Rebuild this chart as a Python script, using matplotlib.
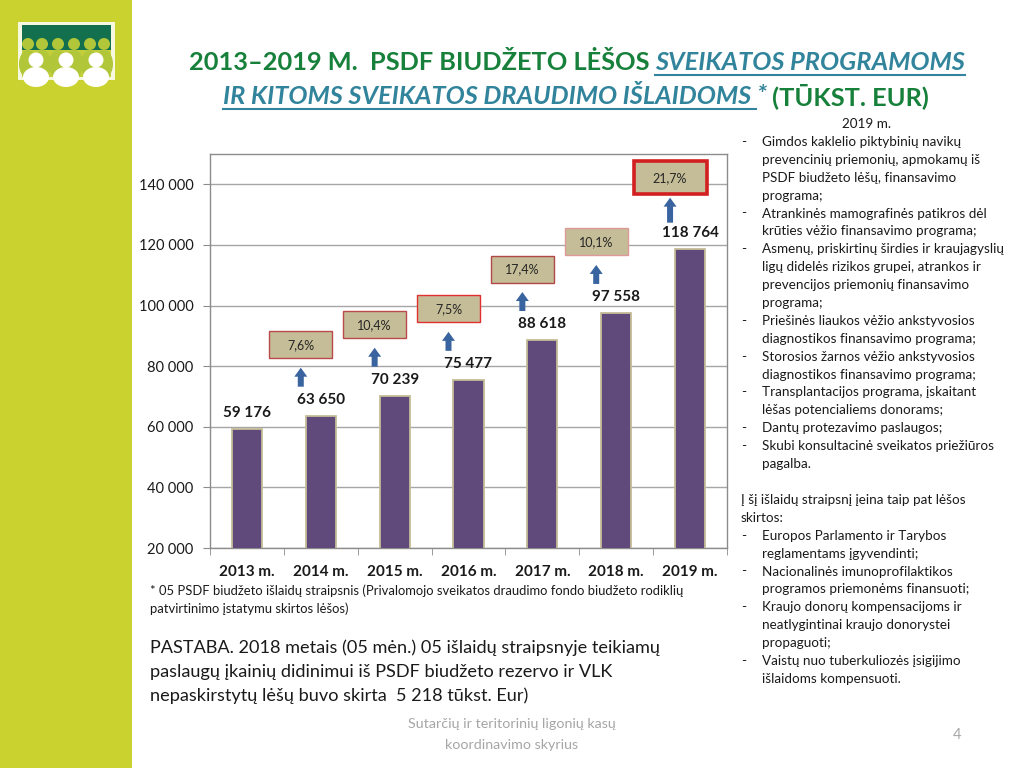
import matplotlib
matplotlib.use("Agg")
import matplotlib.pyplot as plt
import numpy as np
from matplotlib.patches import Rectangle, FancyArrow, Ellipse
from matplotlib.transforms import Affine2D, ScaledTranslation
from matplotlib.ticker import FuncFormatter, FixedLocator

plt.rcParams['font.family'] = ['Lato', 'DejaVu Sans']

# ---- data ----
years = ['2013 m.', '2014 m.', '2015 m.', '2016 m.', '2017 m.', '2018 m.', '2019 m.']
values = [59176, 63650, 70239, 75477, 88618, 97558, 118764]
growth = [None, '7,6%', '10,4%', '7,5%', '17,4%', '10,1%', '21,7%']
y_ticks = [20000, 40000, 60000, 80000, 100000, 120000, 140000]

right_lines = [
    (0, '2019 m.'),
    (1, 'Gimdos kaklelio piktybinių navikų'),
    (2, 'prevencinių priemonių, apmokamų iš'),
    (2, 'PSDF biudžeto lėšų, finansavimo'),
    (2, 'programa;'),
    (1, 'Atrankinės mamografinės patikros dėl'),
    (2, 'krūties vėžio finansavimo programa;'),
    (1, 'Asmenų, priskirtinų širdies ir kraujagyslių'),
    (2, 'ligų didelės rizikos grupei, atrankos ir'),
    (2, 'prevencijos priemonių finansavimo'),
    (2, 'programa;'),
    (1, 'Priešinės liaukos vėžio ankstyvosios'),
    (2, 'diagnostikos finansavimo programa;'),
    (1, 'Storosios žarnos vėžio ankstyvosios'),
    (2, 'diagnostikos finansavimo programa;'),
    (1, 'Transplantacijos programa, įskaitant'),
    (2, 'lėšas potencialiems donorams;'),
    (1, 'Dantų protezavimo paslaugos;'),
    (1, 'Skubi konsultacinė sveikatos priežiūros'),
    (2, 'pagalba.'),
    (3, ''),
    (3, 'Į šį išlaidų straipsnį įeina taip pat lėšos'),
    (3, 'skirtos:'),
    (1, 'Europos Parlamento ir Tarybos'),
    (2, 'reglamentams įgyvendinti;'),
    (1, 'Nacionalinės imunoprofilaktikos'),
    (2, 'programos priemonėms finansuoti;'),
    (1, 'Kraujo donorų kompensacijoms ir'),
    (2, 'neatlygintinai kraujo donorystei'),
    (2, 'propaguoti;'),
    (1, 'Vaistų nuo tuberkuliozės įsigijimo'),
    (2, 'išlaidoms kompensuoti.'),
]

footnote = ['* 05 PSDF biudžeto išlaidų straipsnis (Privalomojo sveikatos draudimo fondo biudžeto rodiklių',
            'patvirtinimo įstatymu skirtos lėšos)']
note = ['PASTABA. 2018 metais (05 mėn.) 05 išlaidų straipsnyje teikiamų',
        'paslaugų įkainių didinimui iš PSDF biudžeto rezervo ir VLK',
        'nepaskirstytų lėšų buvo skirta  5 218 tūkst. Eur)']
footer = ['Sutarčių ir teritorinių ligonių kasų', 'koordinavimo skyrius']

W, H = 1024, 768
fig = plt.figure(figsize=(W / 100, H / 100), dpi=100)
fig.patch.set_facecolor('white')


def fx(px):
    return px / W


def fy(py):
    return 1 - py / H


def fh(ph):
    return ph / H


# ---- left sidebar and logo ----
fig.add_artist(Rectangle((0, 0), fx(132), 1, transform=fig.transFigure,
                         facecolor='#c9d22e', edgecolor='none', zorder=0))
fig.add_artist(Rectangle((fx(18), fy(80)), fx(97), fh(58), transform=fig.transFigure,
                         facecolor='#f6f8e0', edgecolor='none', zorder=1))
fig.add_artist(Rectangle((fx(22), fy(77)), fx(89), fh(52), transform=fig.transFigure,
                         facecolor='#c3cf3a', edgecolor='none', zorder=1))
fig.add_artist(Rectangle((fx(22), fy(50)), fx(89), fh(25), transform=fig.transFigure,
                         facecolor='#13704e', edgecolor='none', zorder=1))
for cx in [28, 42, 58, 74, 90, 104]:
    fig.add_artist(Ellipse((fx(cx), fy(44)), fx(12), fh(12), transform=fig.transFigure,
                           facecolor='#b2c63a', edgecolor='none', zorder=2))
    fig.add_artist(Ellipse((fx(cx), fy(64)), fx(18), fh(28), transform=fig.transFigure,
                           facecolor='#b2c63a', edgecolor='none', zorder=2))
for cx in [36, 66, 96]:
    fig.add_artist(Ellipse((fx(cx), fy(60)), fx(15), fh(15), transform=fig.transFigure,
                           facecolor='white', edgecolor='none', zorder=3))
    fig.add_artist(Ellipse((fx(cx), fy(77)), fx(26), fh(20), transform=fig.transFigure,
                           facecolor='white', edgecolor='none', zorder=3))

# ---- title (mixed styles) ----
green = '#17803a'
teal = '#31849b'
renderer = fig.canvas.get_renderer()


def draw_line(parts, cy, center_x):
    texts = []
    for s, color, italic, underline in parts:
        t = fig.text(0, fy(cy), s, color=color, fontsize=18.3, fontweight='bold',
                     fontstyle='italic' if italic else 'normal', va='center', ha='left')
        texts.append((t, underline, color))
    widths = [t.get_window_extent(renderer).width for t, _, _ in texts]
    x = center_x - sum(widths) / 2
    for (t, underline, color), w in zip(texts, widths):
        t.set_x(fx(x))
        if underline:
            fig.add_artist(plt.Line2D([fx(x), fx(x + w)], [fy(cy + 13), fy(cy + 13)],
                                      transform=fig.transFigure, color=color, lw=1.5))
        x += w


draw_line([('2013–2019 M.  PSDF BIUDŽETO LĖŠOS ', green, False, False),
           ('SVEIKATOS PROGRAMOMS', teal, True, True)], 62, 577)
draw_line([('IR KITOMS SVEIKATOS DRAUDIMO IŠLAIDOMS ', teal, True, True),
           ('*', teal, True, False),
           (' (TŪKST. EUR)', green, False, False)], 96, 576)

# ---- chart ----
ax = fig.add_axes([fx(210), fy(548), fx(727 - 210), fy(154) - fy(548)])
x = np.arange(len(years))
ax.bar(x, values, width=0.41, color='#5f4a7b', edgecolor='#c4bd97', linewidth=1.3, zorder=3)
ax.set_xlim(-0.5, len(years) - 0.5)
ax.set_ylim(20000, 150000)
ax.set_yticks(y_ticks)
ax.yaxis.set_major_formatter(FuncFormatter(lambda v, p: f'{v:,.0f}'.replace(',', ' ')))
ax.set_xticks(x)
ax.set_xticklabels(years, fontsize=11, fontweight='bold', color='#1a1a1a')
ax.xaxis.set_minor_locator(FixedLocator(np.arange(-0.5, len(years), 1.0)))
ax.tick_params(axis='x', which='major', length=0, pad=12)
ax.tick_params(axis='x', which='minor', length=5, color='#8c8c8c', direction='out')
ax.tick_params(axis='y', length=5, color='#8c8c8c', labelsize=10.5, pad=7, labelcolor='#1a1a1a')
ax.grid(axis='y', color='#a6a6a6', lw=1, zorder=0)
for sp in ax.spines.values():
    sp.set_color('#8c8c8c')
    sp.set_linewidth(1)


def px_at(xd, yd, dx, dy):
    return Affine2D().translate(dx, dy) + ScaledTranslation(xd, yd, ax.transData)


for i, v in enumerate(values):
    ax.annotate(f'{v:,}'.replace(',', ' '), xy=(i, v), xytext=(0, 16), textcoords='offset pixels',
                ha='center', va='center', fontsize=11, fontweight='bold', color='#1a1a1a', zorder=4)
    if growth[i] is None:
        continue
    last = i == len(values) - 1
    bw, bh = (73, 33) if last else (63, 27)
    ec = '#d21f1f' if last else ['#b94a48', '#b94a48', '#e03030', '#b04848', '#dc9a98'][i - 1]
    lw = 2.6 if last else 1.0
    ax.add_patch(Rectangle((-bw / 2, -bh / 2), bw, bh, transform=px_at(i, v, -20, 71),
                           facecolor='#c4bd97', edgecolor=ec, lw=lw, clip_on=False, zorder=5))
    ax.annotate(growth[i], xy=(i, v), xytext=(-20, 71), textcoords='offset pixels',
                ha='center', va='center', fontsize=9, color='#262626', zorder=6,
                annotation_clip=False)
    y0, ln = (26, 25) if last else (29, 19)
    ax.add_patch(FancyArrow(0, y0, 0, ln, width=6, head_width=13, head_length=9,
                            length_includes_head=True, transform=px_at(i, v, -20, 0),
                            facecolor='#3a64a0', edgecolor='none', clip_on=False, zorder=5))

# ---- right text block ----
fs_r = 9.7
for k, (kind, s) in enumerate(right_lines):
    yy = fy(124 + k * 17.9)
    if kind == 0:
        fig.text(fx(866), yy, s, fontsize=fs_r, ha='center', va='center', color='#1a1a1a')
    elif kind == 1:
        fig.text(fx(741), yy, '-', fontsize=fs_r, ha='left', va='center', color='#1a1a1a')
        fig.text(fx(762), yy, s, fontsize=fs_r, ha='left', va='center', color='#1a1a1a')
    elif kind == 2:
        fig.text(fx(762), yy, s, fontsize=fs_r, ha='left', va='center', color='#1a1a1a')
    else:
        fig.text(fx(741), yy, s, fontsize=fs_r, ha='left', va='center', color='#1a1a1a')

# ---- notes ----
for k, s in enumerate(footnote):
    fig.text(fx(150), fy(591 + k * 18), s, fontsize=9.4, ha='left', va='center', color='#1a1a1a')
for k, s in enumerate(note):
    fig.text(fx(150), fy(648 + k * 24), s, fontsize=13.1, ha='left', va='center', color='#1a1a1a')
for k, s in enumerate(footer):
    fig.text(fx(512), fy(724 + k * 21), s, fontsize=10.3, ha='center', va='center', color='#a6a6a6')
fig.text(fx(957), fy(735), '4', fontsize=10.5, ha='center', va='center', color='#a6a6a6')

fig.savefig('out.png', dpi=100)
